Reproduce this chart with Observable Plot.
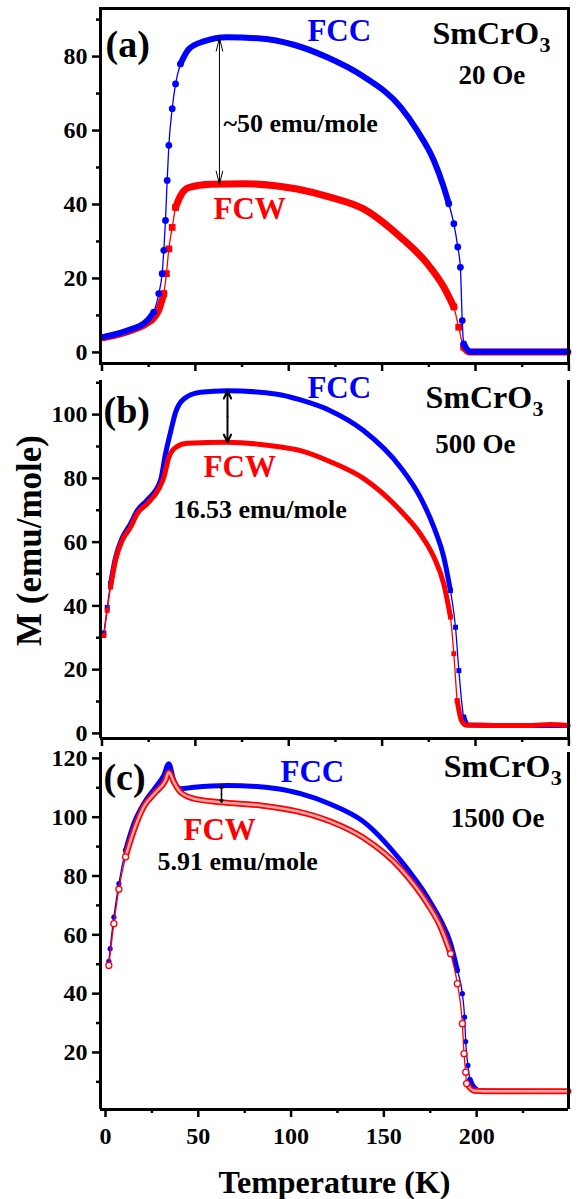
<!DOCTYPE html>
<html><head><meta charset="utf-8">
<script src="https://cdn.jsdelivr.net/npm/d3@7"></script>
<script src="https://cdn.jsdelivr.net/npm/@observablehq/plot@0.6"></script>
<style>body{margin:0;background:#fff}#chart{position:relative;width:578px;height:1199px;overflow:hidden}</style>
</head><body><div id="chart"></div>
<script>
const FONT = "Liberation Serif, 'Times New Roman', serif";
const BLUE = "#0000ff", RED = "#ff0000";

// ---- Panel (a): 20 Oe ----
const tA_fcc = [1.0, 13.5, 24.2, 27.7, 30.4, 32.2, 33.1, 34.0, 34.9, 35.8, 37.6, 39.4, 42.0, 46.5, 54.5, 67.0, 84.9, 102.7, 120.6, 140.0, 159.8, 168.8, 177.7, 183.0, 185.7, 188.4, 190.5, 191.9, 192.9, 193.7, 197.3, 210, 230, 249.5];
const mA_fcc = [4.2, 5.9, 8.6, 10.9, 15.9, 21.3, 27.6, 35.7, 46.5, 56.0, 65.9, 72.6, 78.0, 82.0, 84.1, 85.2, 84.9, 83.2, 79.8, 74.6, 66.4, 60.0, 51.9, 44.7, 40.2, 34.8, 28.5, 23.0, 8.6, 2.3, 0.2, 0.2, 0.2, 0.2];
const tA_fcw = [1.0, 13.5, 24.2, 27.7, 30.4, 33.1, 34.5, 35.8, 37.6, 39.4, 42.0, 46.5, 58.2, 76.0, 104.5, 122, 140, 159.8, 174.2, 183.0, 188.4, 191.0, 193.7, 196.5, 210, 230, 249.5];
const mA_fcw = [4.0, 5.6, 7.9, 9.3, 11.5, 15.9, 21.3, 28.0, 33.8, 39.2, 42.3, 44.6, 45.5, 45.6, 44.2, 42.0, 38.8, 31.2, 24.0, 17.7, 12.3, 6.8, 1.4, 0.1, 0.1, 0.1, 0.1];

// ---- Panel (b): 500 Oe ----
const tB_fcc = [1.0, 2.8, 4.6, 7.2, 10.8, 15.3, 18.8, 24.2, 31.3, 34.0, 36.7, 39.4, 43.8, 52.7, 67.0, 93.8, 106.3, 122, 140, 159.8, 170.4, 177.7, 183.0, 186.6, 189.3, 191.1, 193.7, 196, 210, 230, 249.5];
const mB_fcc = [31.5, 39.5, 47.0, 55.0, 61.3, 65.8, 69.8, 73.2, 79.3, 87.7, 94.5, 100.7, 104.9, 107.0, 107.5, 106.4, 104.6, 101.3, 95.0, 83.5, 74.1, 64.7, 55.3, 44.8, 33.3, 19.7, 5.1, 2.6, 2.5, 2.5, 2.5];
const tB_fcw = [1.0, 2.8, 4.6, 7.2, 10.8, 15.3, 18.8, 24.2, 30.4, 33.1, 35.8, 39.4, 45.6, 67.0, 93.8, 106.3, 122, 140, 159.8, 170.4, 177.7, 183.0, 186.6, 188.4, 190.2, 192.5, 195, 210, 230, 240, 249.5];
const mB_fcw = [30.7, 38.6, 45.9, 54.2, 60.5, 64.7, 68.9, 72.0, 76.7, 80.3, 86.6, 89.7, 91.0, 91.3, 90.0, 88.7, 85.3, 80.0, 69.9, 62.6, 55.3, 46.9, 36.5, 25.0, 10.3, 4.0, 2.6, 2.5, 2.5, 2.8, 2.5];

// ---- Panel (c): 1500 Oe ----
const tC_fcc = [1.8, 2.5, 4.5, 7.2, 10.8, 15.3, 20.6, 27.0, 31.4, 34.1, 36.8, 40.4, 47.6, 65.6, 92.6, 105.1, 121, 139, 159, 173.4, 180.6, 186.0, 189.6, 192.3, 193.5, 194.1, 195.3, 196.4, 198.5, 202, 220, 249.5];
const mC_fcc = [51, 55.3, 66, 77.4, 88.7, 97.8, 104.6, 110.2, 114.2, 118.2, 112.5, 109.7, 110.2, 110.8, 109.7, 108.0, 104.5, 98.5, 85.3, 72.8, 64.9, 57.0, 47.9, 40.0, 32.0, 23.7, 15.6, 10.8, 8.2, 7.0, 6.8, 6.7];
const tC_fcw = [1.8, 4.5, 7.2, 10.8, 15.3, 20.6, 27.0, 32.3, 34.1, 36.8, 40.4, 47.6, 62, 83.6, 103.3, 121, 139, 159, 173.4, 180.6, 186.0, 189.6, 192.3, 193.2, 194.1, 194.6, 198.5, 210, 230, 249.5];
const mC_fcw = [49.6, 63.8, 75.5, 86.5, 95.5, 103.5, 108.5, 112.5, 115.3, 112.0, 108.5, 106.3, 105.1, 104.0, 102.0, 98.6, 93.0, 82.5, 70.6, 62.6, 53.6, 43.4, 29.8, 19.6, 13.3, 9.4, 7.0, 6.8, 6.8, 6.8];

// ---- ticks ----
const xMajor = [0, 50, 100, 150, 200, 250];
const xMinor = [25, 75, 125, 175, 225];
const xLabelTicks = [0, 50, 100, 150, 200];
const yA_major = [0, 20, 40, 60, 80], yA_minor = [10, 30, 50, 70, 90];
const yB_major = [0, 20, 40, 60, 80, 100], yB_minor = [10, 30, 50, 70, 90, 110];
const yC_major = [20, 40, 60, 80, 100, 120], yC_minor = [10, 30, 50, 70, 90, 110];

const PLOT_W = 468; // frame width in px
const rows = (T, M) => T.map((t, i) => ({T: t, M: M[i]}));

// split a series into dense "band" runs and sparse steep runs (shown as separate markers)
function split(T, M, xDom, yDom, frameH, thr) {
  const sx = PLOT_W / (xDom[1] - xDom[0]), sy = frameH / (yDom[1] - yDom[0]);
  const band = [], steep = new Set();
  let seg = 0, prevBand = false;
  for (let i = 0; i < T.length - 1; i++) {
    const s = Math.abs(M[i + 1] - M[i]) * sy / (Math.abs(T[i + 1] - T[i]) * sx);
    if (s <= thr) {
      if (!prevBand) { seg++; band.push({T: T[i], M: M[i], seg}); }
      band.push({T: T[i + 1], M: M[i + 1], seg});
      prevBand = true;
    } else { steep.add(i); steep.add(i + 1); prevBand = false; }
  }
  return {band, dots: [...steep].sort((a, b) => a - b).map(i => ({T: T[i], M: M[i]}))};
}

function seriesMarks(T, M, xDom, yDom, frameH, thr, s) {
  const all = rows(T, M);
  const {band, dots} = split(T, M, xDom, yDom, frameH, thr);
  const m = [Plot.line(all, {x: "T", y: "M", stroke: s.color, strokeWidth: 1.3, curve: "monotone-x"})];
  m.push(Plot.line(band, {x: "T", y: "M", z: "seg", stroke: s.color, strokeWidth: s.width, curve: "monotone-x", strokeLinejoin: "round", strokeLinecap: "round"}));
  if (s.inner) m.push(Plot.line(band, {x: "T", y: "M", z: "seg", stroke: s.inner, strokeWidth: s.innerWidth, curve: "monotone-x", strokeLinecap: "round"}));
  m.push(Plot.dot(dots, {x: "T", y: "M", symbol: s.symbol, r: s.r, fill: s.fill, stroke: s.dotStroke || "none", strokeWidth: 1.3}));
  return m;
}

const txt = (T, M, s, size, fill, extra = {}) =>
  Plot.text([s], {x: [T], y: [M], text: d => d, fontSize: size, fill, fontFamily: FONT, fontWeight: "bold",
    textAnchor: "start", lineAnchor: "bottom", ...extra});
const dblArrow = (T, M1, M2, o) => {
  const mid = (M1 + M2) / 2;
  return [
    Plot.arrow([0], {x1: [T], y1: [mid], x2: [T], y2: [M1], stroke: "black", ...o}),
    Plot.arrow([0], {x1: [T], y1: [mid], x2: [T], y2: [M2], stroke: "black", ...o})
  ];
};
const axes = (yMajor, yMinor, showX) => [
  Plot.axisY({ticks: yMajor, tickSize: 8, tickPadding: 5, strokeWidth: 2.5, fontSize: 24, fontFamily: FONT, fontWeight: "bold", fill: "black", label: null}),
  Plot.axisY({ticks: yMinor, tickSize: 4, strokeWidth: 2.5, tickFormat: () => "", label: null}),
  showX
    ? Plot.axisX({ticks: xLabelTicks, tickSize: 8, tickPadding: 9, strokeWidth: 2.5, fontSize: 24, fontFamily: FONT, fontWeight: "bold", fill: "black", label: null})
    : Plot.axisX({ticks: xMajor, tickSize: 8, strokeWidth: 2.5, tickFormat: () => "", label: null}),
  Plot.axisX({ticks: xMinor, tickSize: 4, strokeWidth: 2.5, tickFormat: () => "", label: null})
];
const common = {width: 578, marginLeft: 100, marginRight: 10,
  style: {background: "transparent", overflow: "visible", fontFamily: FONT, fontWeight: "bold", color: "black"}};

// Panel (a)
const xA = [-0.8, 249.8], yA = [-3, 93], hA = 355;
const pa = Plot.plot({...common, height: 372, marginTop: 8, marginBottom: 9,
  x: {domain: xA}, y: {domain: yA},
  marks: [
    ...axes(yA_major, yA_minor, false),
    ...seriesMarks(tA_fcw, mA_fcw, xA, yA, hA, 3.5, {color: RED, width: 7, symbol: "square", r: 3.8, fill: RED}),
    ...seriesMarks(tA_fcc, mA_fcc, xA, yA, hA, 3.5, {color: BLUE, width: 6, symbol: "circle", r: 3.4, fill: BLUE}),
    Plot.frame({stroke: "black", strokeWidth: 3}),
    ...dblArrow(62.9, 85, 45.5, {strokeWidth: 1, headLength: 20, headAngle: 28}),
    txt(1.9, 80, "(a)", 38, "black"),
    txt(110, 84.3, "FCC", 31, BLUE),
    txt(177, 83.4, "SmCrO", 32, "black"),
    txt(177, 83.4, "3", 22, "black", {dx: 107, dy: 8}),
    txt(190.9, 72.7, "20 Oe", 27, "black"),
    txt(65, 59.5, "~50 emu/mole", 26, "black"),
    txt(59.7, 36.2, "FCW", 31, RED)
  ]});

// Panel (b)
const xB = [-0.8, 249.8], yB = [-1.6, 110.7], hB = 358;
const pb = Plot.plot({...common, height: 373, marginTop: 8, marginBottom: 7,
  x: {domain: xB}, y: {domain: yB},
  marks: [
    ...axes(yB_major, yB_minor, false),
    ...seriesMarks(tB_fcc, mB_fcc, xB, yB, hB, 6, {color: BLUE, width: 5, symbol: "square", r: 2.8, fill: BLUE}),
    ...seriesMarks(tB_fcw, mB_fcw, xB, yB, hB, 6, {color: RED, width: 5, symbol: "square", r: 2.8, fill: RED}),
    Plot.ruleX(xB, {stroke: "black", strokeWidth: 3}),
    Plot.ruleY([yB[0]], {stroke: "black", strokeWidth: 3}),
    ...dblArrow(67.2, 107.5, 91.3, {strokeWidth: 2, headLength: 14, headAngle: 50}),
    txt(0.8, 97.5, "(b)", 38, "black"),
    txt(110, 105.3, "FCC", 31, BLUE),
    txt(173.2, 102.2, "SmCrO", 32, "black"),
    txt(173.2, 102.2, "3", 22, "black", {dx: 107, dy: 8}),
    txt(178.5, 88.1, "500 Oe", 27, "black"),
    txt(54.4, 80.3, "FCW", 31, RED),
    txt(38.3, 67.7, "16.53 emu/mole", 26, "black"),
    Plot.text(["M (emu/mole)"], {frameAnchor: "left", dx: -60, dy: -19, rotate: -90, fontSize: 35,
      fontFamily: FONT, fontWeight: "bold", fill: "black", lineAnchor: "bottom", textAnchor: "middle"})
  ]});

// Panel (c)
const xC = [-2.7, 249.5], yC = [0.6, 122], hC = 357;
const pc = Plot.plot({...common, height: 454, marginTop: 7, marginBottom: 90,
  x: {domain: xC}, y: {domain: yC},
  marks: [
    ...axes(yC_major, yC_minor, true),
    ...seriesMarks(tC_fcc, mC_fcc, xC, yC, hC, 4.2, {color: BLUE, width: 5, symbol: "circle", r: 2.6, fill: BLUE}),
    ...seriesMarks(tC_fcw, mC_fcw, xC, yC, hC, 4.2, {color: RED, width: 6, inner: "#f7a8a8", innerWidth: 2.5, symbol: "circle", r: 3, fill: "white", dotStroke: RED}),
    Plot.ruleX(xC, {stroke: "black", strokeWidth: 3}),
    Plot.ruleY([yC[0]], {stroke: "black", strokeWidth: 3}),
    ...dblArrow(62.5, 110.8, 105, {strokeWidth: 1.5, headLength: 6, headAngle: 60}),
    txt(-1.1, 109.1, "(c)", 38, "black"),
    txt(94.3, 111.8, "FCC", 31, BLUE),
    txt(182.3, 113.5, "SmCrO", 32, "black"),
    txt(182.3, 113.5, "3", 22, "black", {dx: 107, dy: 8}),
    txt(186, 96.5, "1500 Oe", 27, "black"),
    txt(42, 92.1, "FCW", 31, RED),
    txt(28, 81.9, "5.91 emu/mole", 26, "black"),
    Plot.text(["Temperature (K)"], {frameAnchor: "bottom", dy: 83, fontSize: 32, fontFamily: FONT,
      fontWeight: "bold", fill: "black", lineAnchor: "bottom", textAnchor: "middle"})
  ]});

const chart = document.getElementById("chart");
[[pa, 0], [pb, 372], [pc, 745]].forEach(([svg, top]) => {
  svg.style.position = "absolute";
  svg.style.left = "0px";
  svg.style.top = top + "px";
  chart.appendChild(svg);
});
</script>
</body></html>
